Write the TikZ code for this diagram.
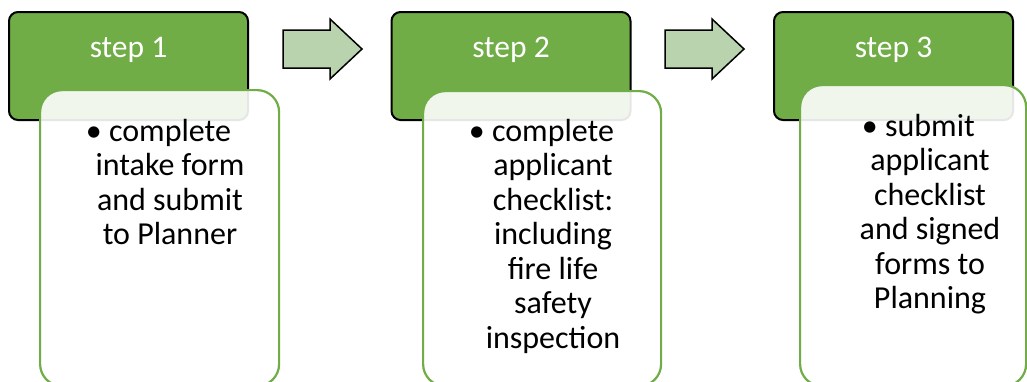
\documentclass[tikz,border=0pt]{standalone}
\usepackage{fontspec}
\setmainfont{Carlito}
\usetikzlibrary{positioning}
\definecolor{stepgreen}{HTML}{70AD47}
\definecolor{arrowgreen}{HTML}{B9D3AE}
\tikzset{
	stephead/.style={draw=black, line width=2pt, fill=stepgreen, rounded corners=9pt, minimum width=239pt, minimum height=108pt},
	steptitle/.style={text=white, anchor=base, inner sep=0pt, font=\fontsize{31.5}{34}\selectfont},
	stepbody/.style={draw=stepgreen, line width=2.2pt, fill=white, fill opacity=0.9, rounded corners=22pt, anchor=north west},
	steptext/.style={align=center, anchor=north, inner sep=0pt, font=\fontsize{32}{34.5}\selectfont},
	steparrow/.style={draw=black, line width=1.5pt, fill=arrowgreen, line join=miter}
}
% block arrow between two steps, #1 = left end
\newcommand{\flowarrow}[1]{%
	\draw[steparrow, shift={(#1,0)}] (0,30) -- (47,30) -- (47,19) -- (79,49) -- (47,79) -- (47,68) -- (0,68) -- cycle;}

\begin{document}
\begin{tikzpicture}[x=1pt, y=-1pt]
	\useasboundingbox (0,0) rectangle (1027,381);
	
	% green headers
	\node[stephead] (head1) at (128.5,66) {};
	\node[stephead] (head2) at (511,66) {};
	\node[stephead] (head3) at (893.5,66) {};
	\node[steptitle] (title1) at (128.5,57) {step 1};
	\node[steptitle] (title2) at (511,57) {step 2};
	\node[steptitle] (title3) at (893.5,57) {step 3};
	
	% white boxes on top of the headers
	\node[stepbody, minimum width=239pt, minimum height=296pt] (body1) at (39,89) {};
	\node[stepbody, minimum width=238pt, minimum height=295pt] (body2) at (422,90) {};
	\node[stepbody, minimum width=226pt, minimum height=301pt] (body3) at (799,84) {};
	
	\node[steptext] (text1) at (170,119) {\llap{\textbullet\ }complete\\intake form\\and submit\\to Planner};
	\node[steptext] (text2) at (553,119) {\llap{\textbullet\ }complete\\applicant\\checklist:\\including\\fire life\\safety\\inspection};
	\node[steptext] (text3) at (930,114) {\llap{\textbullet\ }submit\\applicant\\checklist\\and signed\\forms to\\Planning};
	
	% arrows
	\flowarrow{283}
	\flowarrow{665}
\end{tikzpicture}
\end{document}
